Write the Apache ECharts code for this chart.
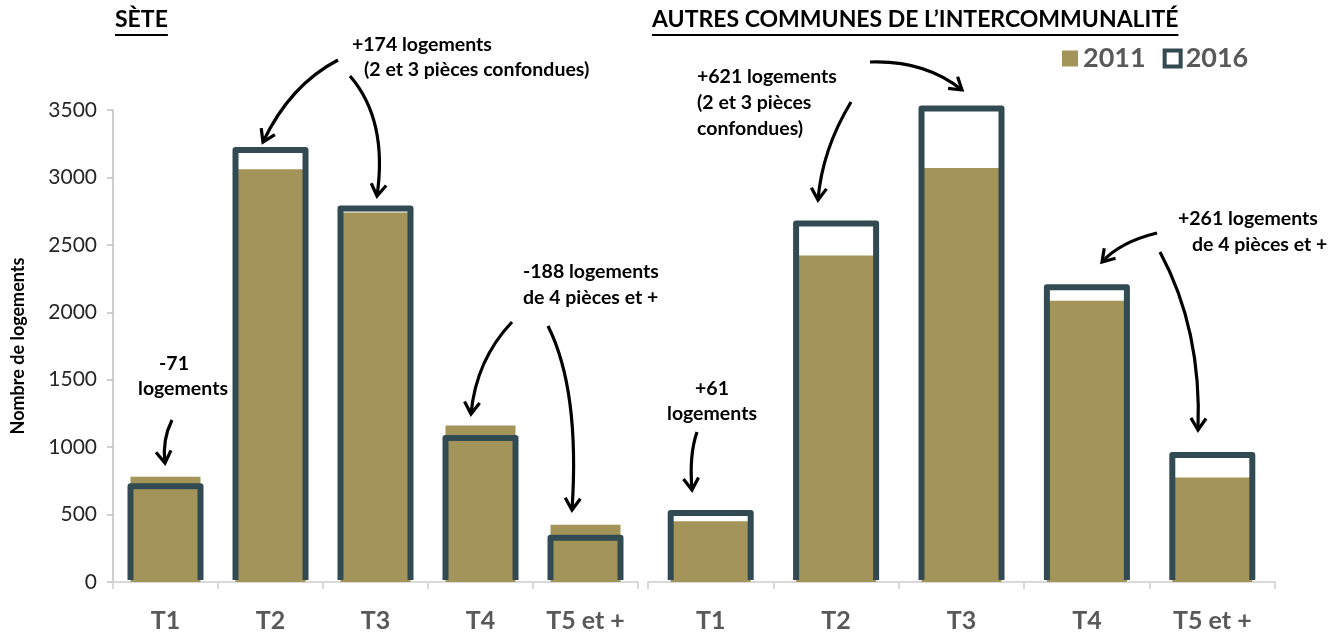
<!DOCTYPE html>
<html><head><meta charset="utf-8">
<script src="https://cdn.jsdelivr.net/npm/echarts@6/dist/echarts.min.js"></script>
<style>html,body{margin:0;padding:0;background:#fff}#c{width:1343px;height:637px}</style>
</head><body><div id="c"></div>
<script>
const categories = ['T1', 'T2', 'T3', 'T4', 'T5 et +'];
const sete2011 = [781, 3060, 2740, 1160, 424];
const sete2016 = [710, 3204, 2770, 1068, 328];
const autres2011 = [450, 2421, 3069, 2085, 775];
const autres2016 = [511, 2658, 3511, 2185, 942];
const yTicks = { min: 0, max: 3500, interval: 500 };

const FONT = 'Lato, "Open Sans", sans-serif';
const OLIVE = '#A3945A';
const DARK = '#324A52';

function measure(txt, font) {
  const c = document.createElement('canvas').getContext('2d');
  c.font = font; return c.measureText(txt).width;
}
function title(txt, x, y) {
  const f = 'bold 23px Lato';
  const w = measure(txt, f);
  return [
    { type: 'text', left: x, top: y, style: { text: txt, font: f, fill: '#000' } },
    { type: 'rect', shape: { x: x, y: y + 26, width: w, height: 2 }, style: { fill: '#000' } }
  ];
}
function arrow(x1, y1, cx, cy, x2, y2) {
  const dx = x2 - cx, dy = y2 - cy, L = Math.hypot(dx, dy);
  const ux = dx / L, uy = dy / L, h = 14, a = Math.PI / 5.5;
  const rot = (ang) => [x2 - h * (ux * Math.cos(ang) - uy * Math.sin(ang)), y2 - h * (ux * Math.sin(ang) + uy * Math.cos(ang))];
  const p1 = rot(a), p2 = rot(-a);
  return [
    { type: 'bezierCurve', shape: { x1, y1, cpx1: cx, cpy1: cy, x2, y2 }, style: { stroke: '#000', lineWidth: 3.2, fill: null } },
    { type: 'polyline', shape: { points: [p1, [x2, y2], p2] }, style: { stroke: '#000', lineWidth: 3.2, fill: null } }
  ];
}
function note(txt, x, y, align) {
  return { type: 'text', x: x, y: y, style: { text: txt, font: 'bold 19.5px Lato', fill: '#000', textAlign: align || 'left', textVerticalAlign: 'middle' } };
}

const graphics = [].concat(
  title('SÈTE', 115, 8),
  title('AUTRES COMMUNES DE L\u2019INTERCOMMUNALITÉ', 652, 8),
  [note('+174 logements', 352, 45), note('(2 et 3 pièces confondues)', 364, 70),
   note('-71', 174, 364, 'center'), note('logements', 183, 389, 'center'),
   note('-188 logements', 523, 272), note('de 4 pièces et +', 523, 298),
   note('+621 logements', 697, 77), note('(2 et 3 pièces', 697, 103), note('confondues)', 697, 129),
   note('+61', 712, 389, 'center'), note('logements', 712, 414, 'center'),
   note('+261 logements', 1178, 219), note('de 4 pièces et +', 1192, 245)],
  arrow(338, 60, 290, 85, 263, 142),
  arrow(350, 76, 388, 120, 377, 196),
  arrow(172, 420, 162, 440, 165, 463),
  arrow(512, 322, 476, 360, 471, 414),
  arrow(548, 326, 580, 390, 572, 510),
  arrow(851, 102, 822, 150, 818, 200),
  arrow(870, 62, 925, 60, 962, 90),
  arrow(697, 432, 689, 455, 692, 490),
  arrow(1157, 233, 1120, 242, 1102, 262),
  arrow(1160, 252, 1202, 330, 1198, 430)
);

const xAxisBase = {
  type: 'category', data: categories,
  axisLine: { lineStyle: { color: '#D9D9D9', width: 2 } },
  axisTick: { show: true, length: 7, lineStyle: { color: '#D9D9D9', width: 2 } },
  axisLabel: { fontFamily: FONT, fontWeight: 'bold', fontSize: 25, color: '#595959', margin: 26 }
};

function outlineSeries(data, xi, widthPx) {
  return {
    name: '2016', type: 'custom', xAxisIndex: xi, yAxisIndex: xi, z: 3,
    data: data.map((v, i) => [i, v]),
    encode: { x: 0, y: 1 },
    renderItem: function (params, api) {
      const top = api.coord([api.value(0), api.value(1)]);
      const base = api.coord([api.value(0), 0]);
      const l = top[0] - widthPx / 2, r = top[0] + widthPx / 2, b = base[1] - 2;
      return {
        type: 'polyline',
        shape: { points: [[l, b], [l, top[1]], [r, top[1]], [r, b]] },
        style: { fill: null, stroke: DARK, lineWidth: 6, lineJoin: 'round', lineCap: 'butt' }
      };
    }
  };
}

const option = {
  animation: false,
  textStyle: { fontFamily: FONT },
  grid: [
    { left: 113, width: 525, top: 110, bottom: 55 },
    { left: 648, width: 627, top: 110, bottom: 55 }
  ],
  legend: {
    left: 1057, top: 40, itemWidth: 16, itemHeight: 16, itemGap: 17, icon: 'rect',
    textStyle: { fontFamily: FONT, fontWeight: 'bold', fontSize: 27, color: '#595959' },
    data: [
      { name: '2011', itemStyle: { color: OLIVE } },
      { name: '2016', itemStyle: { color: '#fff', borderColor: DARK, borderWidth: 4 } }
    ]
  },
  xAxis: [Object.assign({ gridIndex: 0 }, xAxisBase), Object.assign({ gridIndex: 1 }, xAxisBase)],
  yAxis: [
    {
      gridIndex: 0, type: 'value', min: yTicks.min, max: yTicks.max, interval: yTicks.interval,
      name: 'Nombre de logements', nameLocation: 'middle', nameRotate: 90, nameGap: 86,
      nameTextStyle: { fontFamily: FONT, fontWeight: 'bold', fontSize: 18, color: '#000' },
      axisLine: { show: true, lineStyle: { color: '#BFBFBF', width: 1.5 } },
      axisTick: { show: true, length: 6, lineStyle: { color: '#BFBFBF', width: 1.5 } },
      axisLabel: { fontFamily: FONT, fontSize: 21, color: '#262626', margin: 16, formatter: (v) => String(v) },
      splitLine: { show: false }
    },
    {
      gridIndex: 1, type: 'value', min: yTicks.min, max: yTicks.max, interval: yTicks.interval,
      show: false, splitLine: { show: false }
    }
  ],
  series: [
    { name: '2011', type: 'bar', xAxisIndex: 0, yAxisIndex: 0, data: sete2011, barWidth: 70,
      itemStyle: { color: OLIVE }, z: 2 },
    outlineSeries(sete2016, 0, 70),
    { name: '2011', type: 'bar', xAxisIndex: 1, yAxisIndex: 1, data: autres2011, barWidth: 80,
      itemStyle: { color: OLIVE }, z: 2 },
    outlineSeries(autres2016, 1, 80)
  ],
  graphic: graphics
};
const chart = echarts.init(document.getElementById('c'), null, { renderer: 'canvas' });
chart.setOption(option);
</script>
</body></html>
